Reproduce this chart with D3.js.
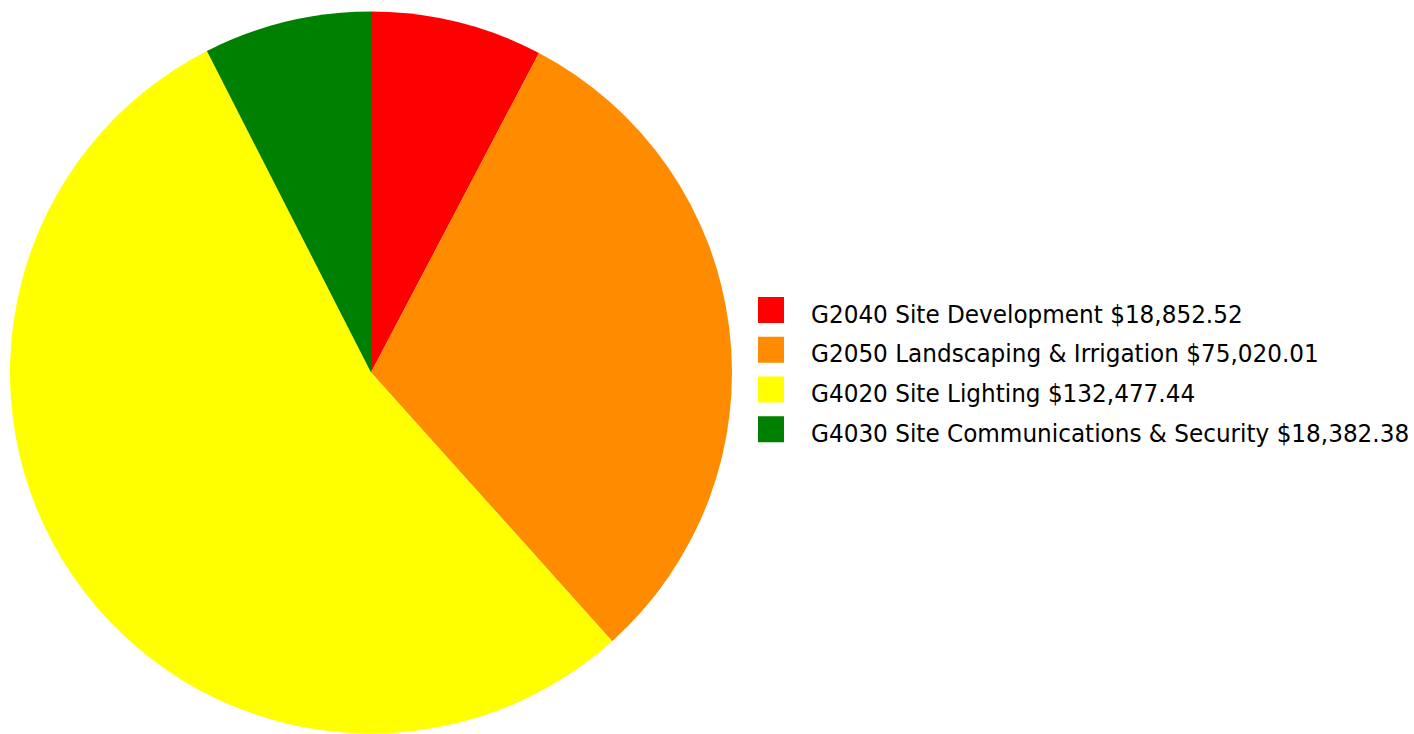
<!DOCTYPE html>
<html>
<head>
<meta charset="utf-8">
<script src="https://cdn.jsdelivr.net/npm/d3@7"></script>
<style>
  html, body { margin: 0; padding: 0; background: #fff; }
  svg { display: block; }
</style>
</head>
<body>
<svg id="chart" width="1414" height="734"></svg>
<script>
// Cost breakdown by site element
const codes = ["G2040", "G2050", "G4020", "G4030"];
const names = ["Site Development", "Landscaping & Irrigation", "Site Lighting", "Site Communications & Security"];
const costs = [18852.52, 75020.01, 132477.44, 18382.38];
const colors = ["#FF0000", "#FF8C00", "#FFFF00", "#008000"];

const svg = d3.select("#chart");
const cx = 371, cy = 372.5, radius = 361;

const items = codes.map((c, i) => ({ code: c, name: names[i], cost: costs[i], color: colors[i] }));

const pie = d3.pie().sort(null).value(d => d.cost);
const arc = d3.arc().innerRadius(0).outerRadius(radius);

svg.append("g")
  .attr("transform", `translate(${cx},${cy})`)
  .selectAll("path")
  .data(pie(items))
  .join("path")
  .attr("d", arc)
  .attr("fill", d => d.data.color);

const fmt = d3.format("$,.2f");
const legendY = d3.scaleBand().domain(d3.range(items.length)).range([297, 456]);

const legend = svg.append("g");
const rows = legend.selectAll("g")
  .data(items)
  .join("g")
  .attr("transform", (d, i) => `translate(758,${legendY(i)})`);

rows.append("rect")
  .attr("width", 26).attr("height", 26)
  .attr("fill", d => d.color);

// Slightly condensed labels, closer to a Tahoma-style face
const condense = 0.945;
rows.append("text")
  .attr("transform", `translate(53,25.5) scale(${condense},1)`)
  .attr("font-family", "DejaVu Sans, sans-serif")
  .attr("font-size", 24.5)
  .attr("fill", "#000")
  .text(d => `${d.code} ${d.name} ${fmt(d.cost)}`);
</script>
</body>
</html>
